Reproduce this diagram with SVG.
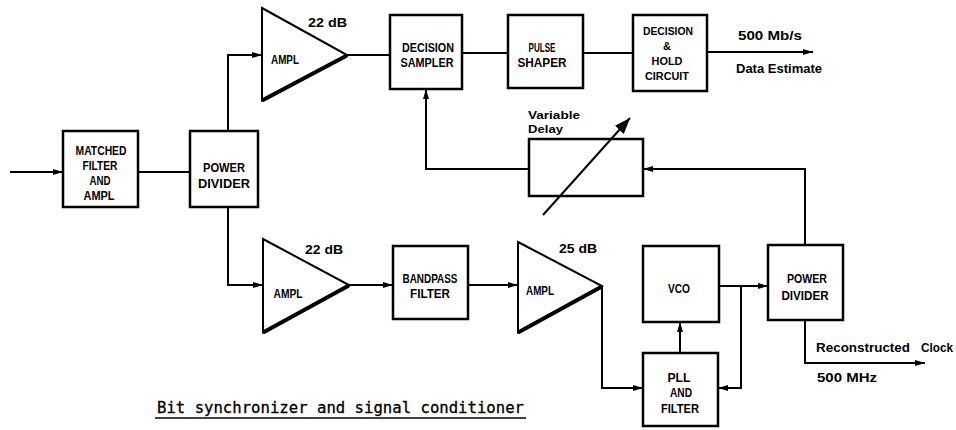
<svg xmlns="http://www.w3.org/2000/svg" width="956" height="430" viewBox="0 0 956 430">
<style>
.box{fill:none;stroke:#000;stroke-width:2.5}
.amp{fill:none;stroke:#000;stroke-width:2;stroke-linejoin:miter}
.ampb{stroke:#000;stroke-width:4;stroke-linecap:round}
.ln{fill:none;stroke:#000;stroke-width:2}
.arr{marker-end:url(#ah)}
.lbl{font-family:"Liberation Sans",Arial,sans-serif;font-weight:bold;font-size:13px;fill:#000;text-anchor:middle}
.ann{font-family:"Liberation Sans",Arial,sans-serif;font-weight:bold;font-size:13px;fill:#000}
.sm{font-size:11.5px}
.cap{font-family:"DejaVu Sans Mono","Liberation Mono",monospace;font-size:15.5px;fill:#000;stroke:#000;stroke-width:0.3}
</style>
<defs>
<marker id="ah" markerUnits="userSpaceOnUse" markerWidth="12" markerHeight="8" refX="10" refY="4" orient="auto">
<path d="M0,1 L10,4 L0,7 z" fill="#000"/>
</marker>
<marker id="ahv" markerUnits="userSpaceOnUse" markerWidth="18" markerHeight="12" refX="16" refY="6" orient="auto">
<path d="M0,0 L16,6 L0,12 z" fill="#000"/>
</marker>
</defs>

<g id="connectors">
<path class="ln arr" d="M10,172 H63"/>
<path class="ln" d="M138,172 H190"/>
<path class="ln arr" d="M228,131 V55 H262"/>
<path class="ln" d="M347,55 H390"/>
<path class="ln" d="M462,53 H508"/>
<path class="ln" d="M583,53 H633"/>
<path class="ln arr" d="M707,52 H813"/>
<path class="ln arr" d="M228,207 V285 H263"/>
<path class="ln arr" d="M349,285 H393"/>
<path class="ln arr" d="M468,285 H518"/>
<path class="ln arr" d="M602,286 V388 H643"/>
<path class="ln arr" d="M719,286 H768"/>
<path class="ln arr" d="M741,286 V388 H718"/>
<path class="ln arr" d="M680,353 V322"/>
<path class="ln arr" d="M805,245 V169 H643"/>
<path class="ln arr" d="M529,169 H426 V89"/>
<path class="ln arr" d="M805,320 V363 H925"/>
</g>

<g id="matched-filter">
<rect class="box" x="63" y="131" width="75" height="76"/>
<text class="lbl" x="101" y="155" textLength="51" lengthAdjust="spacingAndGlyphs">MATCHED</text>
<text class="lbl" x="100" y="170" textLength="35" lengthAdjust="spacingAndGlyphs">FILTER</text>
<text class="lbl" x="100" y="185" textLength="21" lengthAdjust="spacingAndGlyphs">AND</text>
<text class="lbl" x="99" y="200" textLength="31" lengthAdjust="spacingAndGlyphs">AMPL</text>
</g>

<g id="power-divider-1">
<rect class="box" x="190" y="131" width="68" height="76"/>
<text class="lbl" x="224" y="172" textLength="42" lengthAdjust="spacingAndGlyphs">POWER</text>
<text class="lbl" x="224" y="188" textLength="52" lengthAdjust="spacingAndGlyphs">DIVIDER</text>
</g>

<g id="ampl-upper">
<path class="amp" d="M262,8 L347,55 L262,100 Z"/>
<line class="ampb" x1="263" y1="100" x2="346" y2="56"/>
<text class="lbl" x="285" y="64" textLength="28" lengthAdjust="spacingAndGlyphs">AMPL</text>
<text class="ann" x="308" y="27" textLength="39" lengthAdjust="spacingAndGlyphs">22 dB</text>
</g>

<g id="decision-sampler">
<rect class="box" x="390" y="15" width="72" height="74"/>
<text class="lbl" x="428" y="52" textLength="52" lengthAdjust="spacingAndGlyphs">DECISION</text>
<text class="lbl" x="427" y="67" textLength="53" lengthAdjust="spacingAndGlyphs">SAMPLER</text>
</g>

<g id="pulse-shaper">
<rect class="box" x="508" y="15" width="75" height="73"/>
<text class="lbl" x="542" y="52" textLength="27" lengthAdjust="spacingAndGlyphs">PULSE</text>
<text class="lbl" x="542" y="67" textLength="49" lengthAdjust="spacingAndGlyphs">SHAPER</text>
</g>

<g id="decision-hold">
<rect class="box" x="633" y="15" width="74" height="76"/>
<text class="lbl sm" x="668" y="35" textLength="50" lengthAdjust="spacingAndGlyphs">DECISION</text>
<text class="lbl sm" x="667" y="50" textLength="8" lengthAdjust="spacingAndGlyphs">&amp;</text>
<text class="lbl sm" x="667" y="65" textLength="31" lengthAdjust="spacingAndGlyphs">HOLD</text>
<text class="lbl sm" x="667" y="80" textLength="44" lengthAdjust="spacingAndGlyphs">CIRCUIT</text>
</g>

<g id="data-output-labels">
<text class="ann" x="738" y="40" textLength="64" lengthAdjust="spacingAndGlyphs">500 Mb/s</text>
<text class="ann" x="736" y="73" textLength="86" lengthAdjust="spacingAndGlyphs">Data Estimate</text>
</g>

<g id="variable-delay">
<rect class="box" x="529" y="139" width="114" height="57"/>
<line x1="543" y1="215" x2="630" y2="118" stroke="#000" stroke-width="2" marker-end="url(#ahv)"/>
<text class="ann sm" x="528" y="119" textLength="52" lengthAdjust="spacingAndGlyphs">Variable</text>
<text class="ann sm" x="528" y="133" textLength="35" lengthAdjust="spacingAndGlyphs">Delay</text>
</g>

<g id="ampl-lower">
<path class="amp" d="M263,239 L349,285 L263,332 Z"/>
<line class="ampb" x1="264" y1="332" x2="348" y2="286"/>
<text class="lbl" x="288" y="298" textLength="29" lengthAdjust="spacingAndGlyphs">AMPL</text>
<text class="ann" x="305" y="254" textLength="38" lengthAdjust="spacingAndGlyphs">22 dB</text>
</g>

<g id="bandpass-filter">
<rect class="box" x="393" y="246" width="75" height="73"/>
<text class="lbl" x="430" y="283" textLength="55" lengthAdjust="spacingAndGlyphs">BANDPASS</text>
<text class="lbl" x="430" y="298" textLength="40" lengthAdjust="spacingAndGlyphs">FILTER</text>
</g>

<g id="ampl-25">
<path class="amp" d="M518,242 L602,286 L518,332 Z"/>
<line class="ampb" x1="519" y1="332" x2="601" y2="287"/>
<text class="lbl" x="540" y="295" textLength="28" lengthAdjust="spacingAndGlyphs">AMPL</text>
<text class="ann" x="559" y="253" textLength="38" lengthAdjust="spacingAndGlyphs">25 dB</text>
</g>

<g id="vco">
<rect class="box" x="643" y="246" width="76" height="76"/>
<text class="lbl" x="679" y="293" textLength="22" lengthAdjust="spacingAndGlyphs">VCO</text>
</g>

<g id="pll-filter">
<rect class="box" x="643" y="353" width="75" height="73"/>
<text class="lbl" x="679" y="382" textLength="23" lengthAdjust="spacingAndGlyphs">PLL</text>
<text class="lbl" x="681" y="397" textLength="22" lengthAdjust="spacingAndGlyphs">AND</text>
<text class="lbl" x="680" y="413" textLength="38" lengthAdjust="spacingAndGlyphs">FILTER</text>
</g>

<g id="power-divider-2">
<rect class="box" x="768" y="245" width="75" height="75"/>
<text class="lbl" x="807" y="283" textLength="40" lengthAdjust="spacingAndGlyphs">POWER</text>
<text class="lbl" x="805" y="300" textLength="47" lengthAdjust="spacingAndGlyphs">DIVIDER</text>
</g>

<g id="clock-output-labels">
<text class="ann" x="816" y="352" textLength="94" lengthAdjust="spacingAndGlyphs">Reconstructed</text>
<text class="ann" x="921" y="352" textLength="32" lengthAdjust="spacingAndGlyphs">Clock</text>
<text class="ann" x="817" y="382" textLength="60" lengthAdjust="spacingAndGlyphs">500 MHz</text>
</g>

<g id="caption">
<text class="cap" x="157" y="413" textLength="367" lengthAdjust="spacingAndGlyphs">Bit synchronizer and signal conditioner</text>
<line x1="155" y1="418" x2="526" y2="418" stroke="#000" stroke-width="1.5"/>
</g>
</svg>
